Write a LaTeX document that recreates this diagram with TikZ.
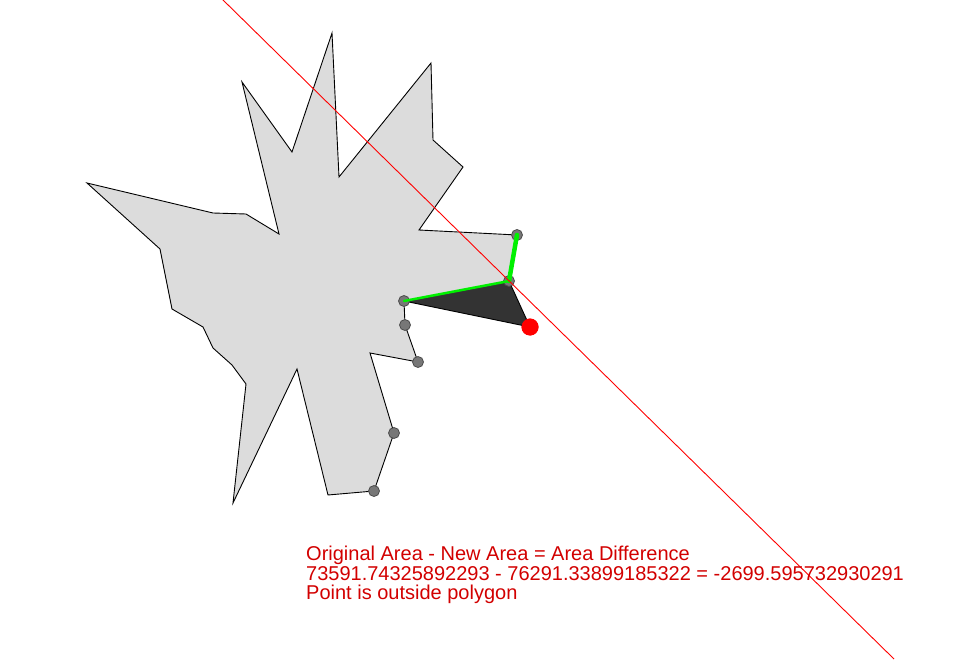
\documentclass[tikz,border=0pt]{standalone}
\usepackage{fontspec}
\setmainfont{Liberation Sans}
\usetikzlibrary{positioning}
\definecolor{polyfill}{HTML}{DCDCDC}
\definecolor{cutfill}{HTML}{333333}
\definecolor{vertgray}{HTML}{777777}
\definecolor{msgred}{HTML}{D20000}

\begin{document}
\begin{tikzpicture}[x=1pt,y=-1pt,
  polygon/.style={draw=black,line width=0.9pt,fill=polyfill,line join=miter},
  cutout/.style={draw=black,line width=0.9pt,fill=cutfill},
  vertex/.style={circle,draw=black!70,fill=vertgray,line width=0.8pt,inner sep=0pt,minimum size=11pt},
  probe/.style={circle,fill=red,inner sep=0pt,minimum size=17pt},
  edgehi/.style={draw={rgb,255:red,0;green,240;blue,0},line cap=round},
  splitline/.style={draw=red,line width=0.9pt},
  areatext/.style={text=msgred,font=\fontsize{20}{22}\selectfont,inner sep=0pt,anchor=base west},
]
\useasboundingbox (0,0) rectangle (968,660);

% the vertices of the polygon
\foreach \x/\y [count=\i] in {87/183,213/213,246/214,279/234,242/82,292/152,332/33,
  339/177,431/63,433/140,463/167,419/230,517/235,509/281,404/301,405/325,418/362,
  370/353,394/433,374/491,328/495,297/369,233/503,246/384,232/365,213/348,203/327,
  172/309,160/249}
  \coordinate (p\i) at (\x,\y);

% the polygon
\draw[polygon] (p1) \foreach \i in {2,...,29} {-- (p\i)} -- cycle;

% the new point and the cut triangle
\node[probe] (q) at (530,327) {};
\draw[cutout] (p15) -- (p14) -- (q.center) -- cycle;

% the marked vertices
\foreach \i in {13,14,15,16,17,19,20}
  \node[vertex] (v\i) at (p\i) {};

% the highlighted edges
\draw[edgehi,line width=4.5pt] (v13.center) -- (v14.center);
\draw[edgehi,line width=2.5pt] (v14.center) -- (v15.center);

% the splitting line
\coordinate (s1) at (222,-1);
\coordinate (s2) at (894,659);
\draw[splitline] (s1) -- (s2);
\node[probe] at (q) {};

% the result
\node[areatext] (title) at (306,560.5) {Original Area - New Area = Area Difference};
\node[areatext,below=19.5pt of title.base west,anchor=base west] (values) {73591.74325892293 - 76291.33899185322 = -2699.595732930291};
\node[areatext,below=19.5pt of values.base west,anchor=base west] (status) {Point is outside polygon};
\end{tikzpicture}
\end{document}
